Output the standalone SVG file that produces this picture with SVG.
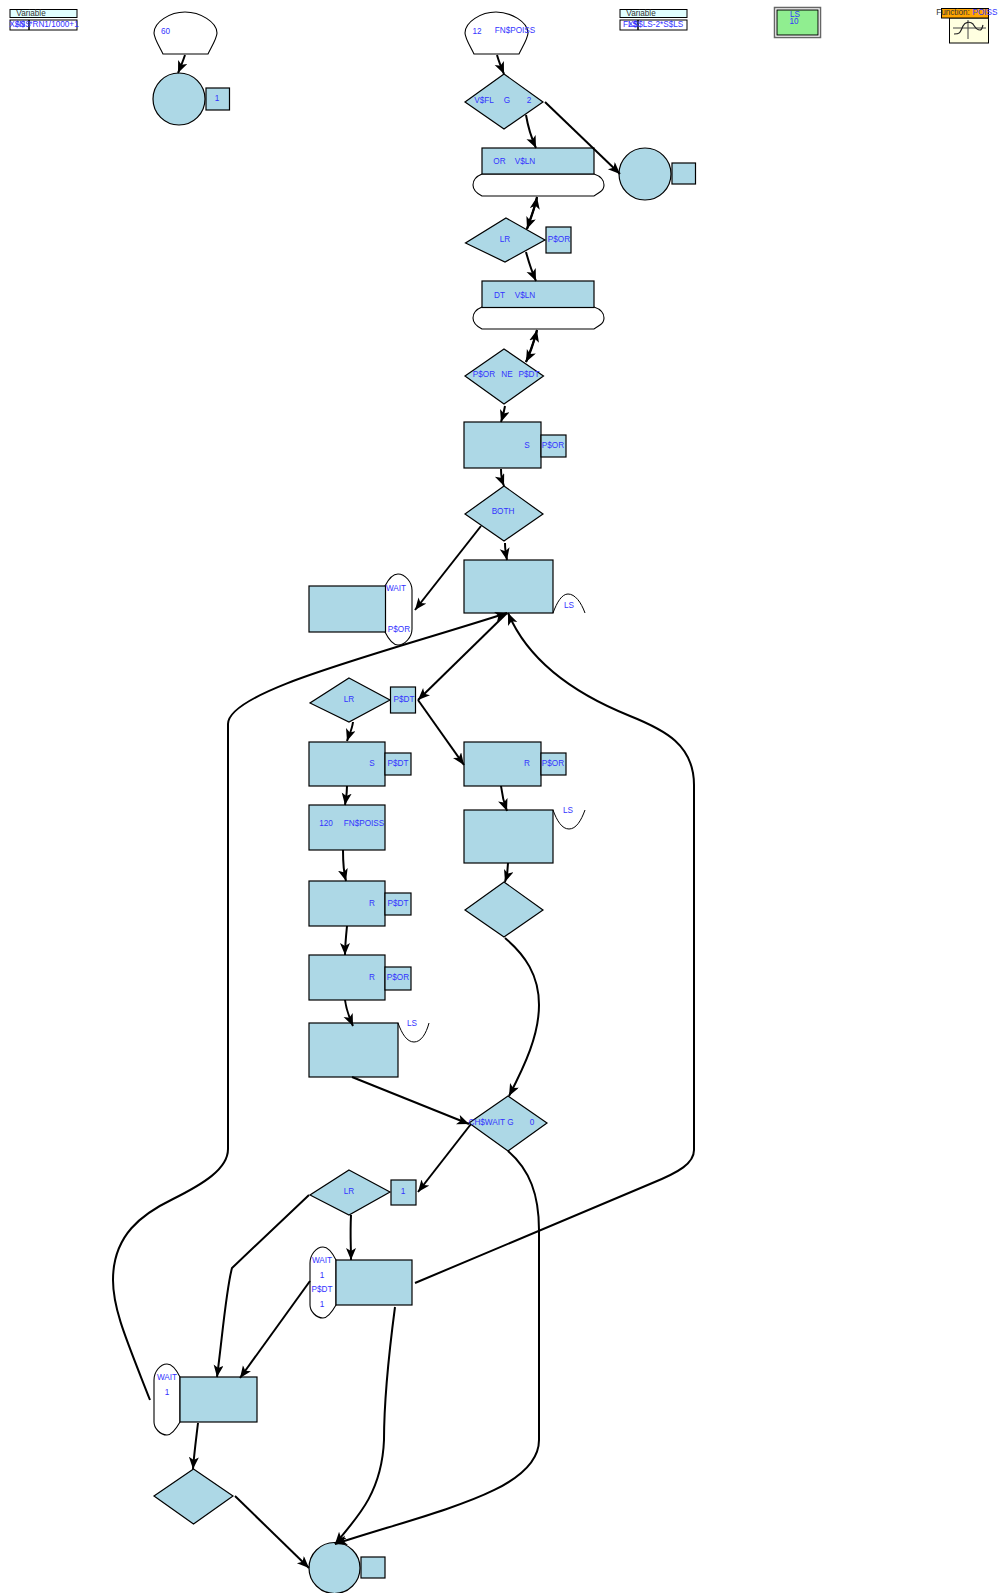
<svg xmlns="http://www.w3.org/2000/svg" width="1000" height="1593" viewBox="0 0 1000 1593">
<defs>
<marker id="arr" markerUnits="userSpaceOnUse" markerWidth="14" markerHeight="12" refX="12" refY="5" orient="auto"><path d="M0,0 L12,5 L0,10 L3,5 Z" fill="#000"/></marker>
</defs>
<style>
.b{fill:#add8e6;stroke:#000;stroke-width:1.200}
.w{fill:#fff;stroke:#000;stroke-width:1.100}
.c{fill:none;stroke:#000;stroke-width:2;marker-end:url(#arr)}
text{font-family:"Liberation Sans",Arial,sans-serif;font-size:8.200px;fill:#3333ff;text-anchor:middle}
.k{fill:#333}
</style>
<rect width="1000" height="1593" fill="#fff"/>
<g id="var1"><rect x="10" y="9.500" width="67" height="8" fill="#e0ffff" stroke="#000"/><rect x="10" y="20" width="67" height="10" fill="#fff" stroke="#000"/><path d="M29,20V30" stroke="#000" stroke-width="1.500"/><text class="k" x="31" y="16">Variable</text><text x="20" y="27">X$NS</text><text x="20" y="27">A$</text><text x="54" y="27">*RN1/1000+1</text></g>
<g id="var2"><rect x="620" y="9.500" width="67" height="8" fill="#e0ffff" stroke="#000"/><rect x="620" y="20" width="67" height="10" fill="#fff" stroke="#000"/><path d="M638,20V30" stroke="#000" stroke-width="1.500"/><text class="k" x="641" y="16">Variable</text><text x="630" y="27">FL$</text><text x="633" y="27">X$</text><text x="658" y="27">S$LS-2*S$LS</text></g>
<g id="table"><rect x="774.500" y="7.500" width="46" height="30" fill="#fff" stroke="#666" stroke-width="1.500"/><rect x="777" y="10" width="41" height="25" fill="#90ee90" stroke="#000"/><text x="795" y="17">LS</text><text x="794" y="24">10</text></g>
<g id="func"><rect x="949.500" y="18" width="39" height="25" fill="#ffffe0" stroke="#000"/><rect x="941.500" y="8.500" width="47" height="9.500" fill="#ffa500" stroke="#000"/><path d="M968,20V39M953,28H986" fill="none" stroke="#444"/><path d="M954,34C960,34 960,33 963,26C965,22 970,21 973,24C975,27 976,30 980,30C982,30 982,28 983,25" fill="none" stroke="#222" stroke-width="1.200"/><text class="k" x="953" y="15">Function:</text><text x="985" y="15">POISS</text></g>

<g id="gen1"><path class="w" d="M163,54H208C212,46 217,38 217,33C217,22 200,12 185,12C170,12 154,22 154,33C154,38 159,46 163,54Z"/><text x="165.500" y="34">60</text></g>
<g id="term1"><circle class="b" cx="179" cy="99" r="26"/><rect class="b" x="206" y="88" width="23.500" height="22"/><text x="217" y="101">1</text></g>
<g id="gen2"><path class="w" d="M474,54H519C523,46 528,38 528,33C528,22 511,12 496,12C481,12 465,22 465,33C465,38 470,46 474,54Z"/><text x="477" y="34">12</text><text x="515" y="33">FN$POISS</text></g>
<g id="test1"><path class="b" d="M504,74L543,102L504,129L465,102Z"/><text x="484" y="103">V$FL</text><text x="507" y="103">G</text><text x="529" y="103">2</text></g>
<g id="gate1"><path class="w" d="M482,174C477,176 473,180 473,185C473,190 476,193 482,196H594L600,192C603,190 604,187 604,185C604,180 600,176 594,174Z"/><rect class="b" x="482" y="148" width="112" height="26"/><text x="499.500" y="164">OR</text><text x="525" y="164">V$LN</text></g>
<g id="term2"><circle class="b" cx="645" cy="174" r="26"/><rect class="b" x="672" y="163" width="23.500" height="21"/></g>
<g id="test2"><path class="b" d="M506,218L545,240L505,262L465.500,243Z"/><text x="505" y="242">LR</text><rect class="b" x="546" y="227" width="25" height="26"/><text x="559" y="242">P$OR</text></g>
<g id="gate2"><path class="w" d="M482,307C477,309 473,313 473,318C473,323 476,326 482,329H594L600,325C603,323 604,320 604,318C604,313 600,309 594,307Z"/><rect class="b" x="482" y="281" width="112" height="26.500"/><text x="499.500" y="298">DT</text><text x="525" y="298">V$LN</text></g>
<g id="test3"><path class="b" d="M504,349L543.500,376L504,404L465,376Z"/><text x="484" y="377">P$OR</text><text x="507" y="377">NE</text><text x="529" y="377">P$DT</text></g>
<g id="seize1"><rect class="b" x="464" y="422" width="77" height="46"/><text x="527" y="448">S</text><rect class="b" x="541" y="435" width="25" height="22"/><text x="553" y="448">P$OR</text></g>
<g id="test4"><path class="b" d="M504,486L543,514L504,541L465,514Z"/><text x="503" y="514">BOTH</text></g>
<g id="split1"><rect class="b" x="464" y="560" width="89" height="53"/><path d="M553,613C557,602 562,594 568,594C575,594 581,602 585,613" fill="none" stroke="#000"/><text x="569" y="608">LS</text></g>
<g id="wait1"><path class="w" d="M385,586C388,580 392,574 398,574C405,574 412,582 412,590V629C412,637 405,645 398,645C392,645 388,638 385,632Z"/><rect class="b" x="309" y="586" width="76.500" height="46"/><text x="396" y="591">WAIT</text><text x="399" y="632">P$OR</text></g>
<g id="test5"><path class="b" d="M349,678L390,700L349,722L310,703Z"/><text x="349" y="702">LR</text><rect class="b" x="390.500" y="687" width="25" height="26"/><text x="404" y="702">P$DT</text></g>
<g id="seize2"><rect class="b" x="309" y="742" width="76" height="44"/><text x="372" y="766">S</text><rect class="b" x="385" y="753" width="26" height="22"/><text x="398" y="766">P$DT</text></g>
<g id="advance"><rect class="b" x="309" y="805" width="76" height="45"/><text x="326" y="826">120</text><text x="364" y="826">FN$POISS</text></g>
<g id="release1"><rect class="b" x="309" y="881" width="76" height="45"/><text x="372" y="906">R</text><rect class="b" x="385" y="893" width="26" height="22"/><text x="398" y="906">P$DT</text></g>
<g id="release2"><rect class="b" x="309" y="955" width="76" height="45"/><text x="372" y="980">R</text><rect class="b" x="385" y="967" width="26" height="23"/><text x="398" y="980">P$OR</text></g>
<g id="unlink1"><rect class="b" x="309" y="1023" width="89" height="54"/><path d="M398,1023C402,1034 407,1042 414,1042C421,1042 426,1034 429,1023" fill="none" stroke="#000"/><text x="412" y="1026">LS</text></g>
<g id="release3"><rect class="b" x="464" y="742" width="77" height="44"/><text x="527" y="766">R</text><rect class="b" x="541" y="753" width="25" height="22"/><text x="553" y="766">P$OR</text></g>
<g id="unlink2"><rect class="b" x="464" y="810" width="89" height="53"/><path d="M553,810C557,821 562,829 569,829C576,829 581,821 585,810" fill="none" stroke="#000"/><text x="568" y="813">LS</text></g>
<g id="test6"><path class="b" d="M504,882L543,910L504,937L465,910Z"/></g>
<g id="test7"><path class="b" d="M508,1096L547,1123L508,1151L469,1123Z"/><text x="491" y="1125">CH$WAIT G</text><text x="532" y="1125">0</text></g>
<g id="test8"><path class="b" d="M349,1170L390,1192L349,1215L310,1195Z"/><text x="349" y="1194">LR</text><rect class="b" x="391" y="1180" width="25" height="25"/><text x="403" y="1194">1</text></g>
<g id="wait2"><path class="w" d="M336,1260C332,1252 328,1247 323,1247C316,1247 310,1255 310,1263V1305C310,1311 316,1318 323,1318C328,1318 332,1312 336,1305Z"/><rect class="b" x="336" y="1260" width="76" height="45"/><text x="322" y="1263">WAIT</text><text x="322" y="1278">1</text><text x="322" y="1292">P$DT</text><text x="322" y="1307">1</text></g>
<g id="wait3"><path class="w" d="M180,1377C176,1369 172,1364 167,1364C160,1364 154,1372 154,1380V1422C154,1428 160,1435 167,1435C172,1435 176,1429 180,1422Z"/><rect class="b" x="180" y="1377" width="77" height="45"/><text x="167" y="1380">WAIT</text><text x="167" y="1395">1</text></g>
<g id="test9"><path class="b" d="M193.500,1469L233,1496L193.500,1524L154,1496Z"/></g>
<g id="term3"><circle class="b" cx="334.500" cy="1568" r="25.500"/><rect class="b" x="361" y="1557" width="24" height="21"/></g>

<g id="connectors">
<path class="c" d="M185,55C183,61 181,66 178,73"/>
<path class="c" d="M497,55C499,62 501,67 504,74"/>
<path class="c" d="M526,115C528,127 531,137 536,148"/>
<path class="c" d="M545,102L620,174"/>
<path class="c" d="M537,197C535,208 531,218 527,229"/>
<path class="c" d="M527,229C530,218 535,208 537,197"/>
<path class="c" d="M526,252C529,263 532,272 536,281"/>
<path class="c" d="M537,330C534,342 530,354 526,362"/>
<path class="c" d="M526,362C529,354 534,342 537,330"/>
<path class="c" d="M505,406C504,412 503,416 501,422"/>
<path class="c" d="M501,469C501,476 502,481 504,486"/>
<path class="c" d="M481,526L415,610"/>
<path class="c" d="M505,543C505,550 506,555 507,560"/>
<path class="c" d="M507,613L418,700"/>
<path class="c" d="M418,700L464,765"/>
<path class="c" d="M353,722C352,730 349,735 347,741"/>
<path class="c" d="M347,786C347,794 346,798 345,805"/>
<path class="c" d="M343,850C343,860 343,870 346,881"/>
<path class="c" d="M347,926C346,936 345,946 345,955"/>
<path class="c" d="M345,1000C346,1008 349,1017 353,1026"/>
<path class="c" d="M352,1077L469,1124"/>
<path class="c" d="M501,786C502,795 504,803 507,811"/>
<path class="c" d="M508,863C508,870 507,876 505,882"/>
<path class="c" d="M505,938C525,955 539,975 539,1005C539,1035 525,1065 509,1096"/>
<path class="c" d="M471,1124L418,1192"/>
<path class="c" d="M351,1215C350,1235 351,1245 351,1260"/>
<path class="c" d="M309,1195L232,1268C226,1290 222,1340 217,1377"/>
<path class="c" d="M310,1281L240,1378"/>
<path class="c" d="M415,1283L650,1184C680,1172 694,1163 694,1150V785C694,745 665,730 630,716C580,696 530,665 508,613"/>
<path class="c" d="M150,1400C127,1341 113,1310 113,1280C113,1235 142,1214 173,1199C203,1184 228,1169 228,1149V724C228,691 376,655 507,613"/>
<path class="c" d="M198,1423C196,1440 194,1455 193,1469"/>
<path class="c" d="M235,1496L309,1568"/>
<path class="c" d="M395,1307C388,1360 384,1400 384,1440C382,1490 360,1515 335,1544"/>
<path class="c" d="M508,1151C530,1170 539,1195 539,1230V1440C539,1490 440,1510 335,1544"/>
</g>
</svg>
